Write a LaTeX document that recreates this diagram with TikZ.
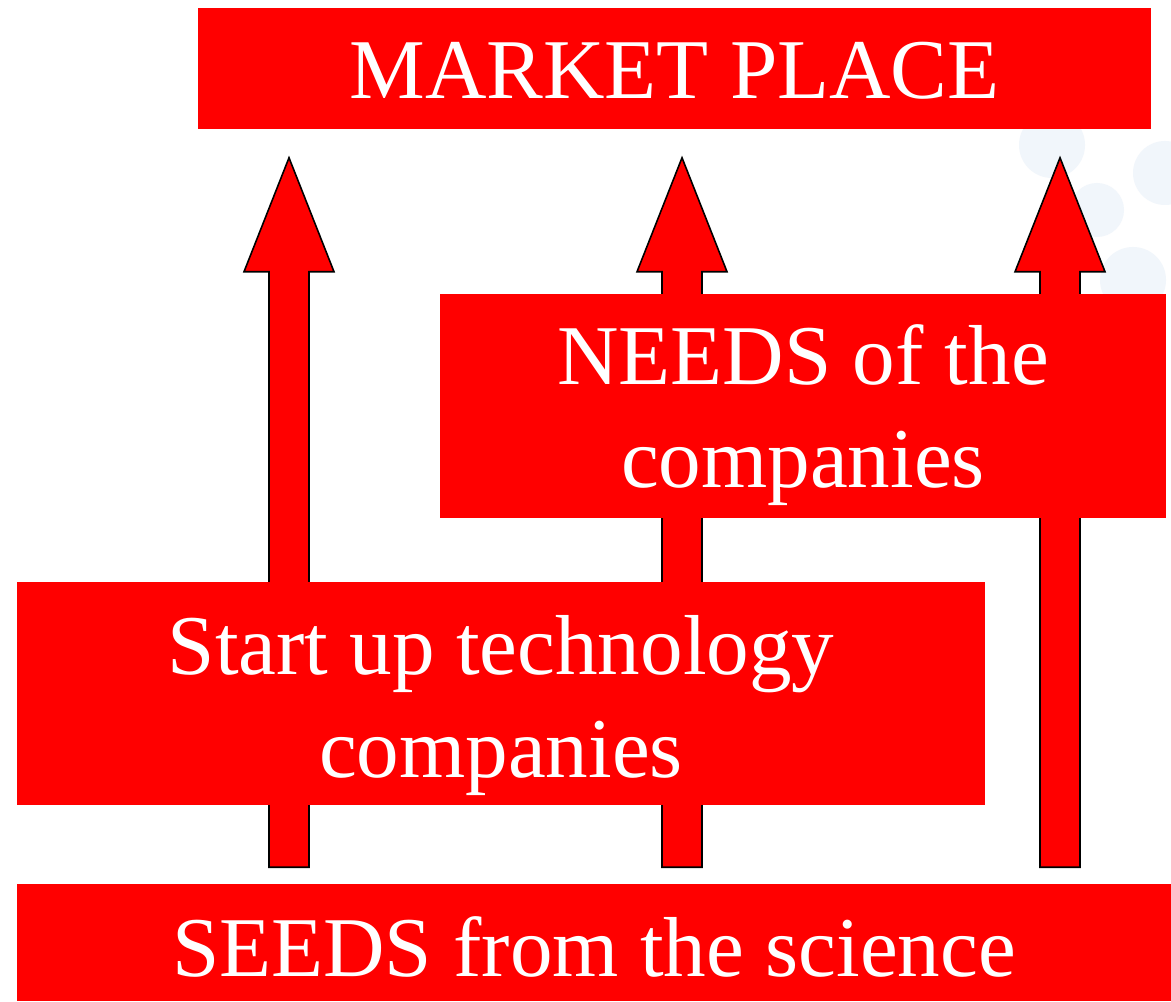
\documentclass[tikz,border=0pt]{standalone}
\usepackage{fontspec}
\setmainfont{Liberation Serif}
\usepackage{xcolor}
\usetikzlibrary{calc, positioning, backgrounds}
\definecolor{bgdot}{RGB}{241,246,251}
\tikzset{
  box/.style={fill=red, text=white, inner sep=0pt, align=center,
    font=\fontsize{24.2pt}{29.3pt}\selectfont},
  blockarrow/.style={fill=red, draw=black, line width=0.45pt, line join=miter},
}

\begin{document}
\begin{tikzpicture}[x=0.01cm, y=-0.01cm]
\useasboundingbox (0,0) rectangle (1171,1001);
\node[box, minimum width=9.53cm, minimum height=1.21cm, text height=0.6cm, text depth=0cm] (market) at (674.5,68.5) {MARKET PLACE};
\node[box, minimum width=7.26cm, minimum height=2.24cm, text height=1.65cm, text depth=0.03cm] (needs) at (803,406) {NEEDS of the\\companies};
\node[box, minimum width=9.68cm, minimum height=2.23cm, text height=1.69cm, text depth=0.02cm] (startup) at (501,693.5) {Start up technology\\companies};
\node[box, minimum width=11.54cm, minimum height=1.17cm, text height=0.67cm, text depth=0cm] (seeds) at (594,942.5) {SEEDS from the science};
\begin{pgfonlayer}{background}
\fill[white] (0,0) rectangle (1171,1001);
\fill[bgdot] (1052,145) circle (33);
\fill[bgdot] (1165,173) circle (32);
\fill[bgdot] (1097,210) circle (27);
\fill[bgdot] (1133,280) circle (33);
\foreach \ax in {289,682,1060} {
  \coordinate (b) at (\ax,0 |- seeds.north);
  \coordinate (t) at (\ax,0 |- market.south);
  \draw[blockarrow] ($(b)+(-20,-16)$) -- ($(t)+(-20,142)$) -- ($(t)+(-45,142)$)
    -- ($(t)+(0,28)$) -- ($(t)+(45,142)$) -- ($(t)+(20,142)$)
    -- ($(b)+(20,-16)$) -- cycle;
}
\end{pgfonlayer}
\end{tikzpicture}
\end{document}
